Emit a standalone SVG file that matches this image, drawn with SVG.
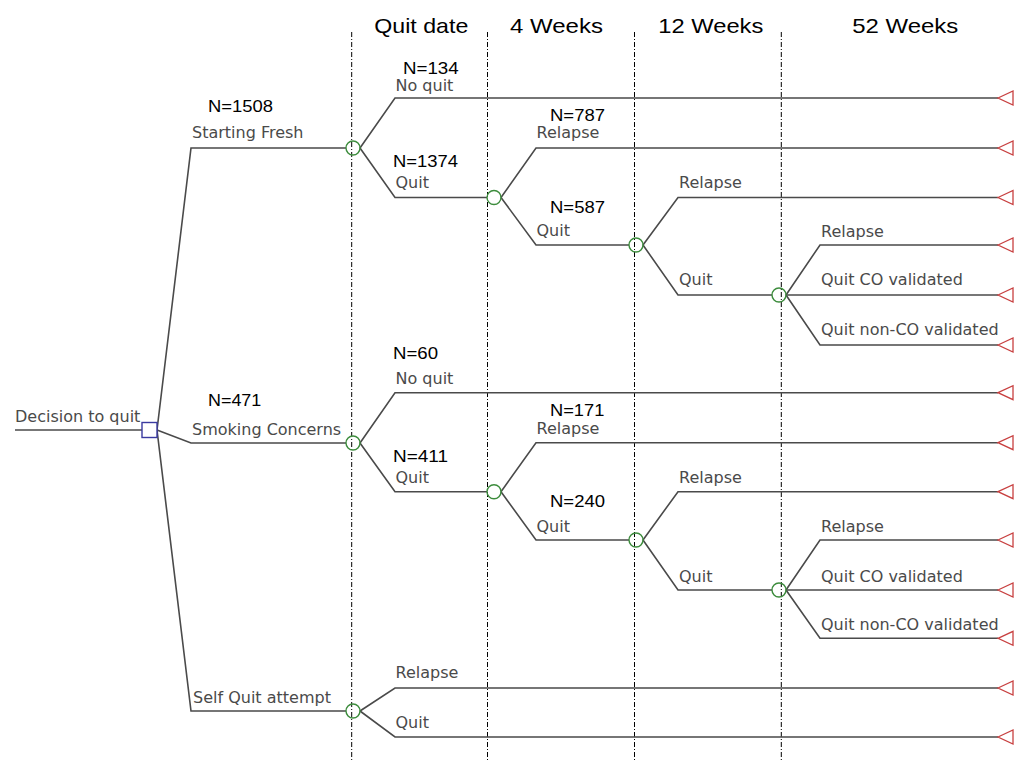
<svg xmlns="http://www.w3.org/2000/svg" width="1014" height="760" viewBox="0 0 1014 760">
<style>
.bg{fill:#ffffff}
.ln{fill:none;stroke:#4a4a4a;stroke-width:1.6}
.ax{fill:none;stroke:#000;stroke-width:1;stroke-dasharray:5 2 1 2}
.ch{fill:none;stroke:#3c8c3c;stroke-width:1.4}
.dec{fill:#fff;stroke:#3a3aa0;stroke-width:1.4}
.term{fill:none;stroke:#c84040;stroke-width:1.3}
.lb{font-family:"DejaVu Sans",sans-serif;font-size:16px;fill:#4a4a4a}
.n{font-family:"Liberation Sans",Arial,sans-serif;font-size:16px;fill:#000}
.hd{font-family:"Liberation Sans",Arial,sans-serif;font-size:21px;fill:#000}
</style>
<defs>
<polygon id="tri" class="term" points="998,0 1013,-7 1013,7"/>
</defs>
<rect class="bg" x="0" y="0" width="1014" height="760"/>

<g id="timeline">
<line class="ax" x1="351.7" y1="32" x2="351.7" y2="760"/>
<line class="ax" x1="487.5" y1="32" x2="487.5" y2="760"/>
<line class="ax" x1="634.5" y1="32" x2="634.5" y2="760"/>
<line class="ax" x1="781.3" y1="32" x2="781.3" y2="760"/>
<text class="hd" x="374.3" y="33" textLength="94" lengthAdjust="spacingAndGlyphs">Quit date</text>
<text class="hd" x="510" y="33" textLength="93" lengthAdjust="spacingAndGlyphs">4 Weeks</text>
<text class="hd" x="658.3" y="33" textLength="105" lengthAdjust="spacingAndGlyphs">12 Weeks</text>
<text class="hd" x="852.3" y="33" textLength="106" lengthAdjust="spacingAndGlyphs">52 Weeks</text>
</g>

<g id="connectors">
<path class="ln" d="M15,430 H142"/>
<path class="ln" d="M157,430 L191,148 H346"/>
<path class="ln" d="M157,430 L191,443 H346"/>
<path class="ln" d="M157,430 L191,711 H346"/>
<path class="ln" d="M360,148 L395,98 H998"/>
<path class="ln" d="M360,148 L395,197.5 H487"/>
<path class="ln" d="M501,197.5 L536,148 H998"/>
<path class="ln" d="M501,197.5 L536,245 H629"/>
<path class="ln" d="M643,245 L678,197.5 H998"/>
<path class="ln" d="M643,245 L678,295 H772"/>
<path class="ln" d="M786,295 L820,245 H998"/>
<path class="ln" d="M786,295 H998"/>
<path class="ln" d="M786,295 L820,345 H998"/>
<path class="ln" d="M360,443 L395,392.7 H998"/>
<path class="ln" d="M360,443 L395,491.7 H487"/>
<path class="ln" d="M501,491.7 L536,442.7 H998"/>
<path class="ln" d="M501,491.7 L536,540 H629"/>
<path class="ln" d="M643,540 L678,491.7 H998"/>
<path class="ln" d="M643,540 L678,590 H772"/>
<path class="ln" d="M786,590 L820,540 H998"/>
<path class="ln" d="M786,590 H998"/>
<path class="ln" d="M786,590 L820,638.3 H998"/>
<path class="ln" d="M360,711 L395,688 H998"/>
<path class="ln" d="M360,711 L395,737 H998"/>
</g>

<g id="decision">
<rect class="dec" x="142" y="422.5" width="15" height="15"/>
<text class="lb" x="15" y="421.7">Decision to quit</text>
</g>

<g id="starting-fresh">
<text class="n" x="208" y="111.7" textLength="65" lengthAdjust="spacingAndGlyphs">N=1508</text>
<text class="lb" x="192" y="138">Starting Fresh</text>
<circle class="ch" cx="353" cy="148" r="7"/>
</g>
<g id="sf-noquit">
<text class="n" x="403" y="74" textLength="55.7" lengthAdjust="spacingAndGlyphs">N=134</text>
<text class="lb" x="395.5" y="91">No quit</text>
<use href="#tri" y="98"/>
</g>
<g id="sf-quit">
<text class="n" x="393" y="166.7" textLength="65" lengthAdjust="spacingAndGlyphs">N=1374</text>
<text class="lb" x="395.5" y="188.3">Quit</text>
<circle class="ch" cx="494" cy="197.5" r="7"/>
</g>
<g id="sf-4w-relapse">
<text class="n" x="550" y="120.7" textLength="55" lengthAdjust="spacingAndGlyphs">N=787</text>
<text class="lb" x="536.5" y="138.3">Relapse</text>
<use href="#tri" y="148"/>
</g>
<g id="sf-4w-quit">
<text class="n" x="550" y="212.7" textLength="55" lengthAdjust="spacingAndGlyphs">N=587</text>
<text class="lb" x="536.5" y="236">Quit</text>
<circle class="ch" cx="636" cy="245" r="7"/>
</g>
<g id="sf-12w-relapse">
<text class="lb" x="679" y="188.3">Relapse</text>
<use href="#tri" y="197.5"/>
</g>
<g id="sf-12w-quit">
<text class="lb" x="679" y="285">Quit</text>
<circle class="ch" cx="779" cy="295" r="7"/>
</g>
<g id="sf-52w-relapse">
<text class="lb" x="821" y="236.7">Relapse</text>
<use href="#tri" y="245"/>
</g>
<g id="sf-52w-co">
<text class="lb" x="821" y="285">Quit CO validated</text>
<use href="#tri" y="295"/>
</g>
<g id="sf-52w-nonco">
<text class="lb" x="821" y="335">Quit non-CO validated</text>
<use href="#tri" y="345"/>
</g>

<g id="smoking-concerns">
<text class="n" x="208" y="405.7" textLength="53.3" lengthAdjust="spacingAndGlyphs">N=471</text>
<text class="lb" x="192" y="435">Smoking Concerns</text>
<circle class="ch" cx="353" cy="443" r="7"/>
</g>
<g id="sc-noquit">
<text class="n" x="393" y="359.3" textLength="45" lengthAdjust="spacingAndGlyphs">N=60</text>
<text class="lb" x="395.5" y="384">No quit</text>
<use href="#tri" y="392.7"/>
</g>
<g id="sc-quit">
<text class="n" x="393" y="461.7" textLength="55" lengthAdjust="spacingAndGlyphs">N=411</text>
<text class="lb" x="395.5" y="482.7">Quit</text>
<circle class="ch" cx="494" cy="491.7" r="7"/>
</g>
<g id="sc-4w-relapse">
<text class="n" x="550" y="416" textLength="54.3" lengthAdjust="spacingAndGlyphs">N=171</text>
<text class="lb" x="536.5" y="434">Relapse</text>
<use href="#tri" y="442.7"/>
</g>
<g id="sc-4w-quit">
<text class="n" x="550" y="507.3" textLength="55" lengthAdjust="spacingAndGlyphs">N=240</text>
<text class="lb" x="536.5" y="531.7">Quit</text>
<circle class="ch" cx="636" cy="540" r="7"/>
</g>
<g id="sc-12w-relapse">
<text class="lb" x="679" y="483">Relapse</text>
<use href="#tri" y="491.7"/>
</g>
<g id="sc-12w-quit">
<text class="lb" x="679" y="581.7">Quit</text>
<circle class="ch" cx="779" cy="590" r="7"/>
</g>
<g id="sc-52w-relapse">
<text class="lb" x="821" y="532">Relapse</text>
<use href="#tri" y="540"/>
</g>
<g id="sc-52w-co">
<text class="lb" x="821" y="581.7">Quit CO validated</text>
<use href="#tri" y="590"/>
</g>
<g id="sc-52w-nonco">
<text class="lb" x="821" y="630">Quit non-CO validated</text>
<use href="#tri" y="638.3"/>
</g>

<g id="self-quit">
<text class="lb" x="193" y="703">Self Quit attempt</text>
<circle class="ch" cx="353" cy="711" r="7"/>
</g>
<g id="sq-relapse">
<text class="lb" x="395.5" y="678">Relapse</text>
<use href="#tri" y="688"/>
</g>
<g id="sq-quit">
<text class="lb" x="395.5" y="728">Quit</text>
<use href="#tri" y="737"/>
</g>
</svg>
